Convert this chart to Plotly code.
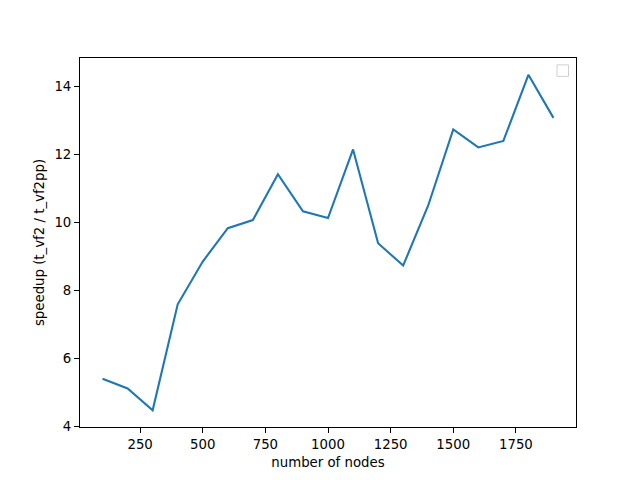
import plotly.graph_objects as go

nodes = [100, 200, 300, 400, 500, 600, 700, 800, 900, 1000,
         1100, 1200, 1300, 1400, 1500, 1600, 1700, 1800, 1900]
speedup = [5.40, 5.11, 4.47, 7.59, 8.85, 9.83, 10.07, 11.42, 10.33, 10.13,
           12.15, 9.39, 8.73, 10.50, 12.74, 12.21, 12.40, 14.35, 13.08]
x_ticks = [250, 500, 750, 1000, 1250, 1500, 1750]
y_ticks = [4, 6, 8, 10, 12, 14]

font = dict(family="DejaVu Sans", size=13.3, color="black")

fig = go.Figure()
fig.add_trace(go.Scatter(x=nodes, y=speedup, mode="lines",
                         line=dict(color="#1f77b4", width=2.1),
                         showlegend=False))

xmin, xmax = min(nodes), max(nodes)
ymin, ymax = min(speedup), max(speedup)
xm = (xmax - xmin) * 0.05
ym = (ymax - ymin) * 0.05

axis_common = dict(showline=True, mirror=True, linecolor="black", linewidth=1,
                   ticks="outside", ticklen=5, tickwidth=1, tickcolor="black",
                   showgrid=False, zeroline=False, tickfont=font,
                   automargin=False)

# the page body adds an 8px offset, so the figure is sized to compensate
fig.update_layout(
    width=632, height=472,
    margin=dict(l=72, r=64, t=50, b=53),
    paper_bgcolor="white", plot_bgcolor="white",
    font=font,
    xaxis=dict(range=[xmin - xm, xmax + xm], tickvals=x_ticks,
               title=dict(text="number of nodes", font=font, standoff=6),
               **axis_common),
    yaxis=dict(range=[ymin - ym, ymax + ym], tickvals=y_ticks,
               title=dict(text="speedup (t_vf2 / t_vf2pp)", font=font, standoff=6),
               **axis_common),
)

# empty legend box (top right)
def px_to_paper_x(px):
    return (px - 80) / 496
def px_to_paper_y(py):
    return (427.2 - py) / 369.6

fig.add_shape(type="rect", xref="paper", yref="paper",
              x0=px_to_paper_x(557), x1=px_to_paper_x(568.5),
              y0=px_to_paper_y(76), y1=px_to_paper_y(64.5),
              line=dict(color="#d0d0d0", width=1), fillcolor="white")

fig.write_html("out.html")
